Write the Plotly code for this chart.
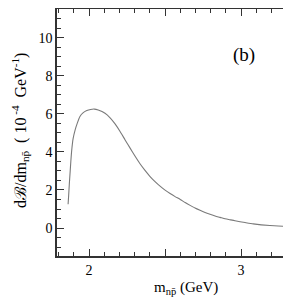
import plotly.graph_objects as go

mass_gev = [1.862, 1.866, 1.870, 1.875, 1.880, 1.886, 1.895, 1.908, 1.922, 1.94, 1.96, 1.985,
            2.01, 2.035, 2.06, 2.105, 2.14, 2.171, 2.205, 2.237, 2.27, 2.303, 2.335, 2.368,
            2.40, 2.434, 2.467, 2.50, 2.533, 2.566, 2.60, 2.632, 2.665, 2.697, 2.73, 2.763,
            2.796, 2.829, 2.862, 2.895, 2.93, 2.96, 3.026, 3.08, 3.19, 3.33, 3.38]
dbdm = [1.25, 1.75, 2.3, 2.9, 3.5, 4.1, 4.7, 5.15, 5.5, 5.86, 6.05, 6.17,
        6.23, 6.25, 6.2, 6.03, 5.78, 5.47, 5.06, 4.63, 4.2, 3.77, 3.38, 3.03,
        2.72, 2.44, 2.2, 1.99, 1.81, 1.65, 1.5, 1.34, 1.19, 1.05, 0.93, 0.82,
        0.72, 0.63, 0.56, 0.49, 0.43, 0.38, 0.29, 0.22, 0.13, 0.07, 0.05]

x_tickvals = [2, 2.5, 3]
x_ticktext = ["2", "", "3"]
y_tickvals = [0, 2, 4, 6, 8, 10]

font_family = "Liberation Serif"

# the page has an 8px body margin: figure coords = page coords - 8
OFF = 8
FW, FH = 291, 305
L, R, T, B = 57 - OFF, 291, 9 - OFF, 256 - OFF
W, H = R - L, B - T

def px(x, y):
    # page pixel -> paper coords
    return (x - OFF - L) / W, (B - (y - OFF)) / H

fig = go.Figure()
fig.add_trace(go.Scatter(x=mass_gev, y=dbdm, mode="lines",
                         line=dict(color="#7a7a7a", width=1.1, shape="spline", smoothing=0.5),
                         showlegend=False, hoverinfo="skip"))

ax, ay = px(186, 288)
bx, by = px(20, 131)
cx, cy = px(244, 55)

fig.update_layout(
    width=FW, height=FH,
    margin=dict(l=L, r=FW - R, t=T, b=FH - B),
    paper_bgcolor="white", plot_bgcolor="white",
    font=dict(family=font_family, size=14, color="black"),
    xaxis=dict(range=[1.789, 1.789 + W / 152.0], showgrid=False, zeroline=False, automargin=False,
               showline=True, linecolor="#333", linewidth=1.5, mirror="allticks",
               ticks="inside", ticklen=7, tickwidth=1.2, tickcolor="#333",
               tickvals=x_tickvals, ticktext=x_ticktext,
               minor=dict(dtick=0.1, tick0=2, ticks="inside", ticklen=4, tickwidth=1, tickcolor="#333", showgrid=False),
               tickfont=dict(size=14)),
    yaxis=dict(range=[-1.47, 11.51], showgrid=False, zeroline=False, automargin=False,
               showline=True, linecolor="#333", linewidth=1.5, mirror=False,
               ticks="inside", ticklen=7, tickwidth=1.2, tickcolor="#333",
               tickvals=y_tickvals,
               minor=dict(dtick=0.5, tick0=0, ticks="inside", ticklen=4, tickwidth=1, tickcolor="#333", showgrid=False),
               tickfont=dict(size=14)),
    annotations=[
        dict(x=cx, y=cy, xref="paper", yref="paper", text="(b)", showarrow=False,
             xanchor="center", yanchor="middle", font=dict(size=19, family=font_family)),
        dict(x=ax, y=ay, xref="paper", yref="paper", text="m<sub>np̄</sub> (GeV)", showarrow=False,
             xanchor="center", yanchor="middle", font=dict(size=15, family=font_family)),
        dict(x=bx, y=by, xref="paper", yref="paper", textangle=-90,
             text="dℬ/dm<sub>np̄</sub>&nbsp;&nbsp;(&nbsp;10<sup>&nbsp;-4</sup>&nbsp;&nbsp;GeV<sup>-1</sup>)",
             showarrow=False, xanchor="center", yanchor="middle", font=dict(size=16, family=font_family)),
    ],
)

fig.write_html("out.html")
